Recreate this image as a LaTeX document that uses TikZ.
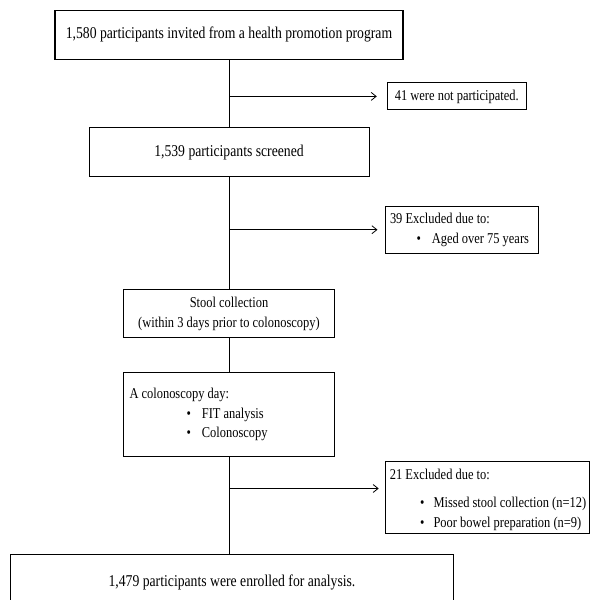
\documentclass[tikz,border=0pt]{standalone}
\usepackage{fontspec}
\setmainfont{Liberation Serif}[FakeStretch=0.83]
\usetikzlibrary{arrows.meta}
\newcommand{\natsp}{\spaceskip=0pt\xspaceskip=0pt\relax}
\newcommand{\bul}[2]{\hspace*{#1}\textbullet\hspace*{#2}}
\begin{document}
\begin{tikzpicture}[x=1pt,y=-1pt,
  box/.style={draw,line width=1pt,inner sep=0pt,align=center,
    font=\fontsize{16.5}{19.5}\selectfont},
  sbox/.style={box,font=\fontsize{15}{19.5}\selectfont},
  lbox/.style={sbox,align=left,inner xsep=2pt},
  link/.style={line width=0.9pt},
  arr/.style={line width=0.8pt,-{Straight Barb[length=5pt,width=8pt]}}]
\useasboundingbox (0,0) rectangle (591,600);
\clip (0,0) rectangle (591,600);
\fill[white] (0,0) rectangle (591,600);

\node[box,line width=1.1pt,minimum width=348pt,minimum height=49.3pt] (b1) at (229,34.7)
  {1,580 participants invited from a health promotion program};
\node[sbox,minimum width=139pt,minimum height=27pt] (b41) at (456.8,96.4)
  {41 were not participated.};
\node[box,minimum width=280pt,minimum height=49pt] (b2) at (229,152.2)
  {1,539 participants screened};
\node[lbox,text width=149pt,minimum height=47.3pt] (b39) at (461.5,229.7)
  {\natsp\hspace*{3pt}39 Excluded due to:\\\bul{29.5pt}{11pt}Aged over 75 years};
\node[sbox,minimum width=211pt,minimum height=47.7pt] (b3) at (229,313.8)
  {Stool collection\\(within 3 days prior to colonoscopy)};
\node[lbox,text width=207pt,minimum height=84.4pt] (b4) at (229,414.5)
  {\natsp\hspace*{4pt}A colonoscopy day:\\\bul{61pt}{11pt}FIT analysis\\\bul{61pt}{11pt}Colonoscopy};
\node[lbox,text width=200pt,minimum height=72.6pt] (b21) at (487.2,497.3)
  {\natsp\rule{0pt}{16pt}\hspace*{2.7pt}21 Excluded due to:\\[8.5pt]\bul{33pt}{9pt}Missed stool collection (n=12)\\\bul{33pt}{9pt}Poor bowel preparation (n=9)};
\node[box,minimum width=443.5pt,minimum height=56pt] (b5) at (232,582)
  {1,479 participants were enrolled for analysis.};

\draw[link] (b1.south) -- (b1.south |- b2.north);
\draw[link] (b2.south) -- (b2.south |- b3.north);
\draw[link] (b3.south) -- (b3.south |- b4.north);
\draw[link] (b4.south) -- (b4.south |- b5.north);

\coordinate (j1) at (b1.south |- b41.west);
\coordinate (j2) at (b2.south |- b39.west);
\coordinate (j3) at (229,488.5);
\draw[arr,shorten >=10pt] (j1) -- (b41.west);
\draw[arr,shorten >=7pt] (j2) -- (b39.west);
\draw[arr,shorten >=6pt] (j3) -- (j3 -| b21.west);
\end{tikzpicture}
\end{document}
